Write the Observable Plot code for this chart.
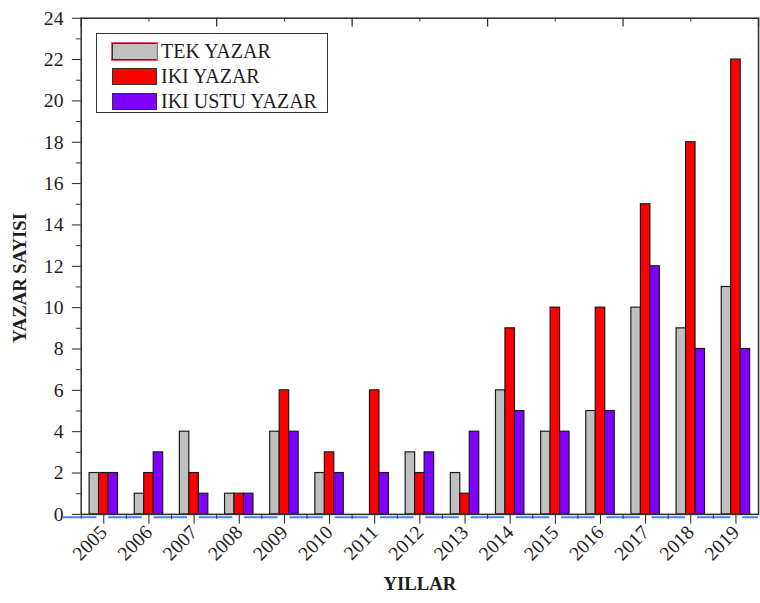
<!DOCTYPE html>
<html><head><meta charset="utf-8">
<script src="https://cdn.jsdelivr.net/npm/d3@7"></script>
<script src="https://cdn.jsdelivr.net/npm/@observablehq/plot@0.6"></script>
<style>
html,body{margin:0;padding:0;overflow:hidden;background:#fff;}
#wrap{position:relative;width:760px;height:603px;overflow:hidden;}
#legend{position:absolute;left:96px;top:33px;width:232px;height:80px;border:1.5px solid #333;background:#fff;box-sizing:border-box;font-size:20px;color:#1e1e1e;font-family:"Liberation Serif","Times New Roman",serif;}
.row{position:absolute;left:15px;display:flex;align-items:center;height:18px;}
.sw{width:45px;height:17px;border:1.5px solid #333;box-sizing:border-box;margin-right:4px;}
</style></head><body>
<div id="wrap"><div id="chart"></div><div id="legend"></div></div>
<script>
const FONT = '"Liberation Serif", "Times New Roman", serif';
const years = [2005,2006,2007,2008,2009,2010,2011,2012,2013,2014,2015,2016,2017,2018,2019];
const seriesNames = ["TEK YAZAR","IKI YAZAR","IKI USTU YAZAR"];
const tekYazar     = [2,1,4,1,4,2,0,3,2,6,4,5,10,9,11];
const ikiYazar     = [2,2,2,1,6,3,6,2,1,9,10,10,15,18,22];
const ikiUstuYazar = [2,3,1,1,4,2,2,3,4,5,4,5,12,8,8];
const seriesColors = ["#c0c0c0","#ff0000","#7f00ff"];
const yTickValues = d3.range(0, 25, 2);

const seriesValues = [tekYazar, ikiYazar, ikiUstuYazar];
const data = [];
years.forEach((yr, j) => seriesNames.forEach((s, i) => data.push({year: yr, series: s, i, value: seriesValues[i][j]})));

const barW = 0.21;
const halfYears = years.slice(0, -1).map(y => y + 0.5).concat([years[0] - 0.5]);
const topMajor = d3.range(years[0] - 0.5, years[years.length - 1] + 1, 3);
const topMinor = topMajor.slice(0, -1).map(v => v + 1.5);
const yMinor = d3.range(1, 24, 2);

const chart = Plot.plot({
  width: 772,
  height: 603,
  marginLeft: 82,
  marginRight: 2,
  marginTop: 18,
  marginBottom: 81,
  style: {fontFamily: FONT, fontSize: "20px", color: "#1e1e1e", background: "#fff"},
  x: {domain: [years[0] - 0.5, years[years.length - 1] + 0.5], ticks: years, tickFormat: "d", tickRotate: -45, tickSize: 10, tickPadding: 5, label: null},
  y: {domain: [0, 24], ticks: yTickValues, tickSize: 9, tickPadding: 9, label: null},
  color: {domain: seriesNames, range: seriesColors},
  marks: [
    Plot.rect(data, {
      x1: d => d.year + (d.i - 1.5) * barW,
      x2: d => d.year + (d.i - 0.5) * barW,
      y1: 0, y2: "value",
      fill: "series", stroke: "#1a1a1a", strokeWidth: 1.2
    }),
    Plot.ruleY([0], {dy: 3, stroke: "#4a7fff", strokeWidth: 2, strokeDasharray: "34,12", strokeDashoffset: -1, insetLeft: -19}),
    Plot.frame({stroke: "#333", strokeWidth: 1.6}),
    Plot.ruleY(yMinor, {x1: years[0] - 0.5, x2: years[0] - 0.5, insetLeft: -5, stroke: "#333"}),
    Plot.ruleX(halfYears, {y1: 0, y2: 0, insetBottom: -5, stroke: "#333"}),
    Plot.ruleX(topMajor, {y1: 24, y2: 24, insetBottom: -9, stroke: "#333", strokeWidth: 1.3}),
    Plot.ruleX(topMinor, {y1: 24, y2: 24, insetBottom: -4, stroke: "#333"}),
    Plot.text(["YAZAR SAYISI"], {frameAnchor: "left", dx: -62, dy: 12, rotate: -90, textAnchor: "middle", lineAnchor: "middle", fontWeight: "bold", fontSize: 19, fill: "#1e1e1e"}),
    Plot.text(["YILLAR"], {frameAnchor: "bottom", dy: 71, textAnchor: "middle", lineAnchor: "middle", fontWeight: "bold", fontSize: 19, fill: "#1e1e1e"})
  ]
});
document.getElementById("chart").appendChild(chart);

const legend = document.getElementById("legend");
seriesNames.forEach((s, i) => {
  const row = document.createElement("div");
  row.className = "row";
  row.style.top = (8 + i * 25) + "px";
  const sw = document.createElement("div");
  sw.className = "sw";
  sw.style.background = seriesColors[i];
  if (i === 0) { sw.style.outline = "1px solid #ff5050"; sw.style.borderRightColor = "#40e0e0"; }
  const t = document.createElement("span");
  t.textContent = s;
  row.appendChild(sw); row.appendChild(t);
  legend.appendChild(row);
});
</script>
</body></html>
